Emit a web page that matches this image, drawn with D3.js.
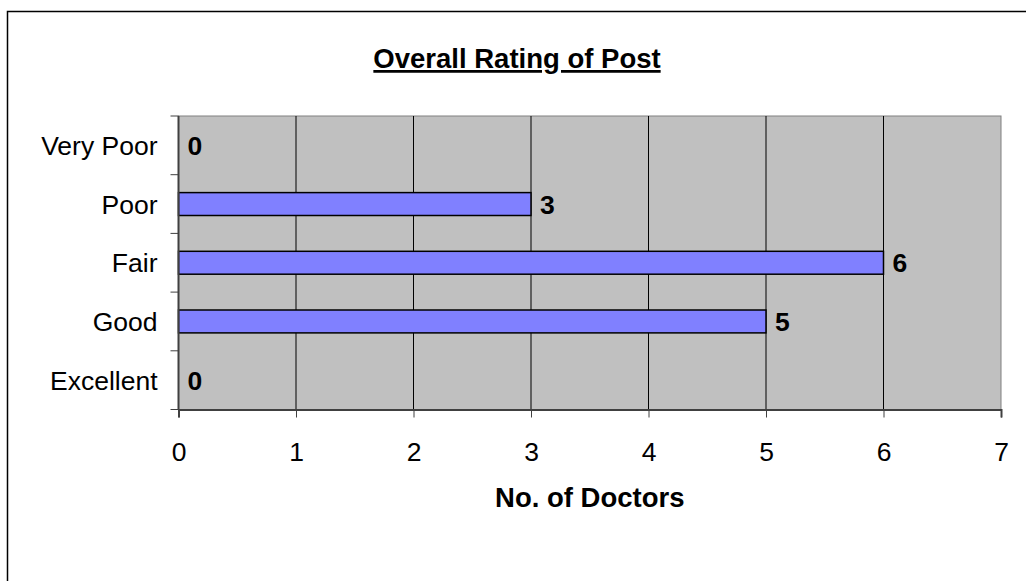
<!DOCTYPE html>
<html>
<head>
<meta charset="utf-8">
<script src="https://cdn.jsdelivr.net/npm/d3@7"></script>
<style>
  body { margin: 0; background: #fff; }
  svg { display: block; font-family: "Liberation Sans", Arial, sans-serif; }
</style>
</head>
<body>
<div id="chart"></div>
<script>
const categories = ["Very Poor", "Poor", "Fair", "Good", "Excellent"];
const doctors = [0, 3, 6, 5, 0];
const xTicks = [0, 1, 2, 3, 4, 5, 6, 7];

const width = 1026;
const height = 581;
const plot = {left: 178.5, right: 1001, top: 116, bottom: 409.5};
const fs = 26.5;

const svg = d3.select("#chart").append("svg")
    .attr("width", width)
    .attr("height", height);

// outer chart frame
svg.append("rect")
    .attr("x", 7.5).attr("y", 11.5)
    .attr("width", width + 10).attr("height", height + 10)
    .attr("fill", "#fff").attr("stroke", "#000").attr("stroke-width", 1.5);

const x = d3.scaleLinear().domain([0, 7]).range([plot.left, plot.right]);
const y = d3.scaleBand().domain(categories).range([plot.top, plot.bottom])
    .paddingInner(0.61).paddingOuter(0.305);
const yb = d3.scaleBand().domain(categories).range([plot.top, plot.bottom]);

// plot background
svg.append("rect")
    .attr("x", plot.left).attr("y", plot.top)
    .attr("width", plot.right - plot.left).attr("height", plot.bottom - plot.top)
    .attr("fill", "#c0c0c0").attr("stroke", "#808080").attr("stroke-width", 1);

// vertical gridlines
svg.append("g")
    .selectAll("line")
    .data(xTicks.slice(1, -1))
    .join("line")
    .attr("x1", d => x(d)).attr("x2", d => x(d))
    .attr("y1", plot.top).attr("y2", plot.bottom)
    .attr("stroke", "#000").attr("stroke-width", 1);

// bars
svg.append("g")
    .selectAll("rect")
    .data(doctors)
    .join("rect")
    .attr("x", x(0))
    .attr("y", (d, i) => y(categories[i]))
    .attr("width", d => x(d) - x(0))
    .attr("height", y.bandwidth())
    .attr("fill", "#8080ff")
    .attr("stroke", d => d > 0 ? "#000" : "none")
    .attr("stroke-width", 1.5);

// value labels
svg.append("g")
    .selectAll("text")
    .data(doctors)
    .join("text")
    .attr("x", d => x(d) + 9)
    .attr("y", (d, i) => yb(categories[i]) + yb.bandwidth() / 2)
    .attr("dy", "0.36em")
    .attr("font-size", fs).attr("font-weight", "bold")
    .text(d => d);

// x axis
const xAxis = svg.append("g")
    .attr("transform", `translate(0,${plot.bottom})`)
    .call(d3.axisBottom(x).tickValues(xTicks).tickFormat(d3.format("d"))
        .tickSize(8).tickPadding(0));
xAxis.select(".domain").attr("stroke", "#404040").attr("stroke-width", 2);
xAxis.selectAll(".tick line").attr("stroke", "#404040");
xAxis.selectAll("text")
    .attr("y", 51).attr("dy", null)
    .attr("font-size", fs).attr("fill", "#000")
    .attr("font-family", "Liberation Sans, Arial, sans-serif");

// y axis (ticks at band boundaries)
const yAxisG = svg.append("g");
yAxisG.append("line")
    .attr("x1", plot.left).attr("x2", plot.left)
    .attr("y1", plot.top).attr("y2", plot.bottom)
    .attr("stroke", "#404040").attr("stroke-width", 2);
yAxisG.selectAll(".tk")
    .data(categories.concat(["end"]))
    .join("line")
    .attr("class", "tk")
    .attr("x1", plot.left - 8).attr("x2", plot.left)
    .attr("y1", (d, i) => i < categories.length ? yb(d) : plot.bottom)
    .attr("y2", (d, i) => i < categories.length ? yb(d) : plot.bottom)
    .attr("stroke", "#404040").attr("stroke-width", 1);
yAxisG.selectAll("text")
    .data(categories)
    .join("text")
    .attr("x", plot.left - 21)
    .attr("y", d => yb(d) + yb.bandwidth() / 2)
    .attr("dy", "0.36em")
    .attr("text-anchor", "end")
    .attr("font-size", fs)
    .text(d => d);

// axis title
svg.append("text")
    .attr("x", (plot.left + plot.right) / 2)
    .attr("y", 507)
    .attr("text-anchor", "middle")
    .attr("font-size", 27.5).attr("font-weight", "bold")
    .text("No. of Doctors");

// chart title
svg.append("text")
    .attr("x", 517)
    .attr("y", 68)
    .attr("text-anchor", "middle")
    .attr("font-size", 27.5).attr("font-weight", "bold")
    .attr("text-decoration", "underline")
    .text("Overall Rating of Post");
</script>
</body>
</html>
